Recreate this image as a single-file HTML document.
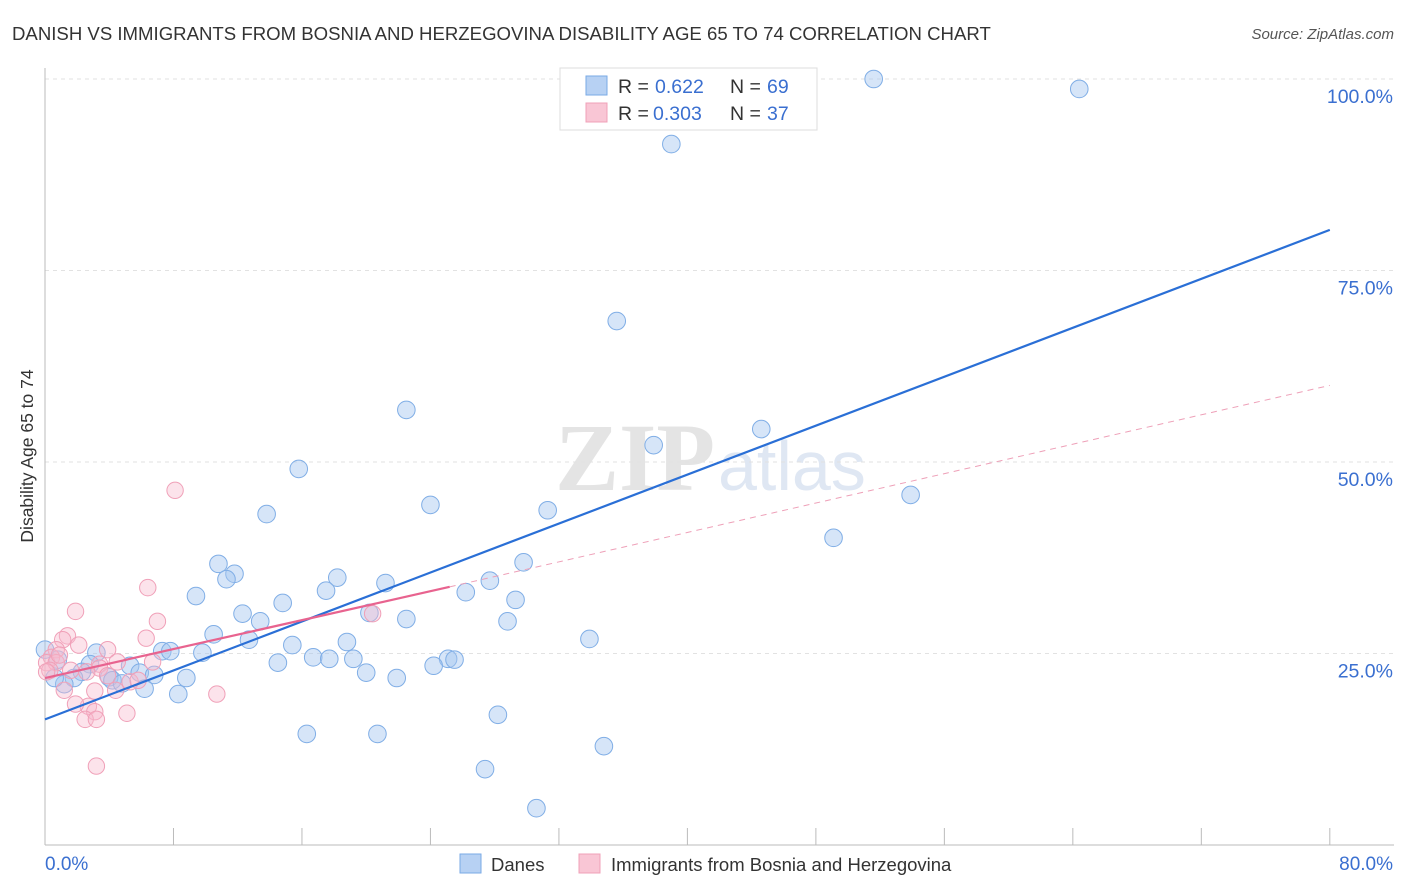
<!DOCTYPE html>
<html><head><meta charset="utf-8">
<style>
body{margin:0;background:#fff;font-family:"Liberation Sans",sans-serif;}
#wrap{position:relative;width:1406px;height:892px;overflow:hidden;}
svg{position:absolute;left:0;top:0;}
</style></head>
<body>
<div id="wrap">
<svg id="svg" width="1406" height="892">
<text x="12" y="40" font-size="18.6" fill="#333">DANISH VS IMMIGRANTS FROM BOSNIA AND HERZEGOVINA DISABILITY AGE 65 TO 74 CORRELATION CHART</text>
<text x="1394" y="39" font-size="15" fill="#555" font-style="italic" text-anchor="end">Source: ZipAtlas.com</text>
<text x="33" y="456" font-size="17.5" fill="#333" text-anchor="middle" transform="rotate(-90 33 456)">Disability Age 65 to 74</text>
<text x="555" y="490" font-size="96" fill="#e4e4e4" font-family="Liberation Serif,serif" font-weight="bold">ZIP</text>
<text x="718" y="490" font-size="70" fill="#dfe7f3">atlas</text>
<g id="grid"></g><g id="axes"></g><g id="pts"></g><g id="lines"></g>
<g>
<rect x="560" y="68" width="257" height="62" fill="#fff" stroke="#ddd"/>
<rect x="586" y="76" width="21" height="19" fill="#b7d1f3" stroke="#7aaae6"/>
<rect x="586" y="103" width="21" height="19" fill="#f9c6d5" stroke="#f0a0b8"/>
<text x="618" y="93" font-size="19.5" fill="#333">R =</text>
<text x="655" y="93" font-size="19.5" fill="#3a6fd0">0.622</text>
<text x="730" y="93" font-size="19.5" fill="#333">N =</text>
<text x="767" y="93" font-size="19.5" fill="#3a6fd0">69</text>
<text x="618" y="120" font-size="19.5" fill="#333">R =</text>
<text x="653" y="120" font-size="19.5" fill="#3a6fd0">0.303</text>
<text x="730" y="120" font-size="19.5" fill="#333">N =</text>
<text x="767" y="120" font-size="19.5" fill="#3a6fd0">37</text>
</g>
<g>
<rect x="460" y="854" width="21" height="19" fill="#b7d1f3" stroke="#7aaae6"/>
<text x="491" y="871" font-size="18.5" fill="#333">Danes</text>
<rect x="579" y="854" width="21" height="19" fill="#f9c6d5" stroke="#f0a0b8"/>
<text x="611" y="871" font-size="18.5" fill="#333">Immigrants from Bosnia and Herzegovina</text>
</g>
</svg>
</div>
<script>
const yTicks=[25,50,75,100];
const yTickLabels=["25.0%","50.0%","75.0%","100.0%"];
const xTickVals=[0,8,16,24,32,40,48,56,64,72,80];
const blueX=[51.6,64.4,39.0,35.6,22.5,44.6,37.9,15.8,53.9,24.0,13.8,31.3,49.1,29.8,10.8,11.8,11.3,18.2,21.2,17.5,27.7,26.2,9.4,29.3,14.8,12.3,13.4,20.2,22.5,28.8,10.5,33.9,12.7,15.4,18.8,7.3,7.8,3.2,9.8,16.7,17.7,19.2,25.1,25.5,14.5,24.2,5.3,2.8,0.8,20.0,21.9,2.3,4.0,5.9,6.8,8.8,4.2,4.8,1.8,1.2,6.2,8.3,28.2,16.3,20.7,34.8,27.4,30.6,0,0.6];
const blueY=[100.0,98.7,91.5,68.4,56.8,54.3,52.2,49.1,45.7,44.4,43.2,43.7,40.1,36.9,36.7,35.4,34.7,34.9,34.2,33.2,34.5,33.0,32.5,32.0,31.6,30.2,29.2,30.3,29.5,29.2,27.5,26.9,26.8,26.1,26.5,25.3,25.3,25.1,25.1,24.5,24.3,24.3,24.3,24.2,23.8,23.4,23.4,23.6,24.2,22.5,21.8,22.6,21.9,22.5,22.2,21.8,21.5,21.1,21.8,21.0,20.4,19.7,17.0,14.5,14.5,12.9,9.9,4.8,25.5,21.8];
const pinkX=[8.1,6.4,1.9,7.0,20.4,6.3,1.4,1.1,2.1,0.7,3.9,0.4,0.1,0.7,3.4,4.5,6.7,0.3,1.6,3.4,2.6,3.9,5.3,1.2,3.1,4.4,10.7,2.7,1.9,3.1,5.1,2.5,3.2,3.2,5.8,0.1,0.9];
const pinkY=[46.3,33.6,30.5,29.2,30.2,27.0,27.3,26.8,26.1,25.5,25.5,24.5,23.8,23.8,23.6,23.9,23.9,22.8,22.8,23.1,22.6,22.1,21.3,20.2,20.1,20.2,19.7,18.1,18.4,17.4,17.2,16.4,16.4,10.3,21.5,22.6,24.8];
const blueLine=[[0,16.4],[80,80.3]];
const pinkSolid=[[0,21.8],[25.2,33.7]];
const pinkDash=[[25.2,33.7],[80,60.0]];

const NS="http://www.w3.org/2000/svg";
const X=v=>45+v*16.06;
const Y=v=>845-v*7.66;
function mk(tag,attrs,parent){const e=document.createElementNS(NS,tag);for(const k in attrs)e.setAttribute(k,attrs[k]);document.getElementById(parent).appendChild(e);return e;}
yTicks.forEach((t,i)=>{
  const g=mk('line',{x1:45,x2:1394,y1:Y(t),y2:Y(t),stroke:'#e2e2e2','stroke-dasharray':'4,4'},'grid');
  
  
  const l=mk('text',{x:1393,y:Y(t)+24,'font-size':19.5,fill:'#3a6fd0','text-anchor':'end'},'grid');
  l.textContent=yTickLabels[i];
  
  
});
const ax=mk('line',{x1:45,x2:1394,y1:845,y2:845,stroke:'#bbb'},'axes');


const ay=mk('line',{x1:45,x2:45,y1:68,y2:845,stroke:'#bbb'},'axes');


xTickVals.forEach(v=>{
  const t=mk('line',{x1:X(v),x2:X(v),y1:828,y2:845,stroke:'#bbb'},'axes');
  
  
});
const xl0=mk('text',{x:45,y:870,'font-size':19,fill:'#3a6fd0'},'axes');xl0.textContent='0.0%';


const xl1=mk('text',{x:1393,y:870,'font-size':19,fill:'#3a6fd0','text-anchor':'end'},'axes');xl1.textContent='80.0%';


blueX.forEach((x,i)=>{
  const c=mk('circle',{cx:X(x),cy:Y(blueY[i]),r:8.8,fill:'rgba(165,198,240,0.45)',stroke:'#80aee6','stroke-width':1},'pts');
  
  
});
pinkX.forEach((x,i)=>{
  const c=mk('circle',{cx:X(x),cy:Y(pinkY[i]),r:8.2,fill:'rgba(248,185,205,0.4)',stroke:'#f0a0b8','stroke-width':1},'pts');
  
  
});
const bl=mk('line',{x1:X(blueLine[0][0]),y1:Y(blueLine[0][1]),x2:X(blueLine[1][0]),y2:Y(blueLine[1][1]),stroke:'#2a6fd6','stroke-width':2.2},'lines');


const ps=mk('line',{x1:X(pinkSolid[0][0]),y1:Y(pinkSolid[0][1]),x2:X(pinkSolid[1][0]),y2:Y(pinkSolid[1][1]),stroke:'#e8638f','stroke-width':2.2},'lines');


const pd=mk('line',{x1:X(pinkDash[0][0]),y1:Y(pinkDash[0][1]),x2:X(pinkDash[1][0]),y2:Y(pinkDash[1][1]),stroke:'#eea0b8','stroke-width':1,'stroke-dasharray':'6,5'},'lines');


</script>
</body></html>
